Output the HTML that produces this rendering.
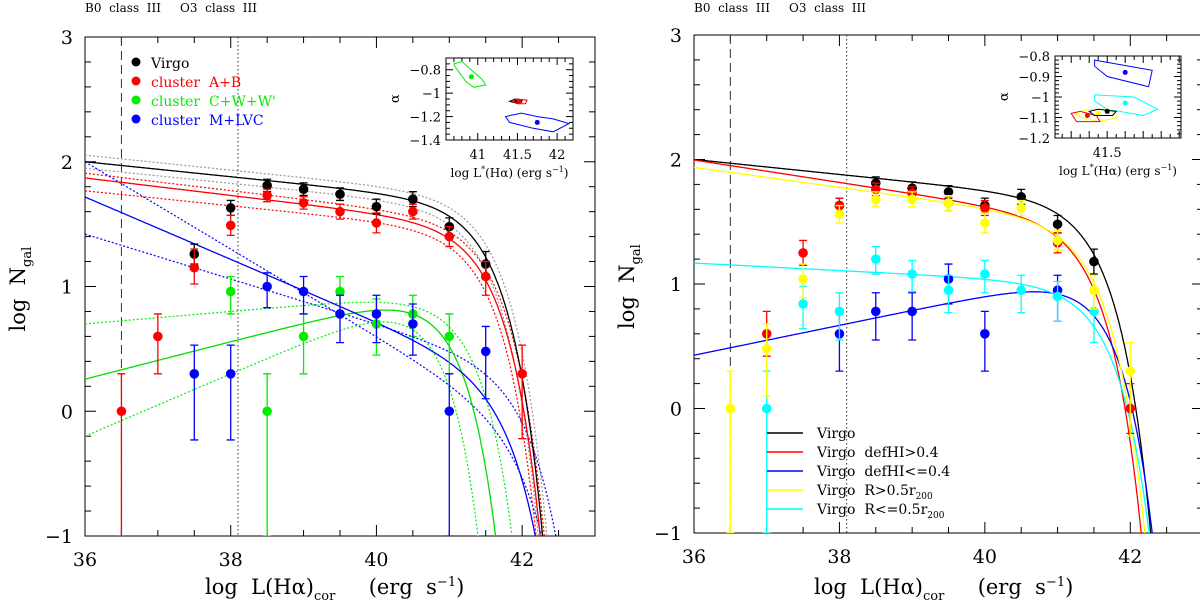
<!DOCTYPE html>
<html><head><meta charset="utf-8"><style>
body{margin:0;background:#fff;}
svg{display:block;font-family:"DejaVu Serif","Liberation Serif",serif;}
svg text{white-space:pre;}
</style></head><body>
<svg id="chart" width="1200" height="612" viewBox="0 0 1200 612"></svg>
<script>
// ---------- LEFT PANEL DATA ----------
const xsL = [36.5,37,37.5,38,38.5,39,39.5,40,40.5,41,41.5,42];
const virgoX = [37.5,38,38.5,39,39.5,40,40.5,41,41.5];
const virgoY = [1.26,1.63,1.81,1.78,1.74,1.64,1.70,1.48,1.18];
const virgoErr = [0.08,0.06,0.05,0.05,0.05,0.06,0.06,0.07,0.1];
const abX = [36.5,37,37.5,38,38.5,39,39.5,40,40.5,41,41.5,42];
const abY = [0,0.6,1.15,1.49,1.73,1.67,1.60,1.51,1.60,1.40,1.08,0.3];
const abUp = [0.3,0.18,0.15,0.08,0.05,0.05,0.06,0.08,0.06,0.08,0.12,0.23];
const abDn = [1.0,0.3,0.13,0.08,0.05,0.05,0.06,0.08,0.06,0.08,0.15,0.52];
const cwX = [38,38.5,39,39.5,40,40.5,41];
const cwY = [0.96,0,0.6,0.96,0.7,0.78,0.6];
const cwUp = [0.12,0.3,0.18,0.12,0.2,0.15,0.18];
const cwDn = [0.18,1.0,0.3,0.2,0.25,0.18,0.3];
const mlX = [37.5,38,38.5,39,39.5,40,40.5,41,41.5];
const mlY = [0.3,0.3,1.0,0.96,0.78,0.78,0.7,0,0.48];
const mlUp = [0.23,0.23,0.11,0.12,0.15,0.15,0.16,0.3,0.2];
const mlDn = [0.53,0.53,0.17,0.18,0.23,0.23,0.25,1.0,0.38];
// Schechter fit parameters [logPhi, alpha, logL*]
const fitVirgo = [1.67,-1.06,41.5];
const fitAB = [1.485,-1.07,41.5];
const fitCW = [1.0,-0.85,40.95];
const fitML = [0.28,-1.25,41.75];
const dotGrey = [[1.72,-1.06,41.55],[1.62,-1.06,41.45]];
const dotRed = [[1.52,-1.07,41.55],[1.44,-1.06,41.45]];
const dotGreen = [[0.96,-0.95,41.2],[0.975,-0.75,40.7]];
const dotBlue = [[-0.1,-1.35,42.0],[0.34,-1.18,42.0]];
// ---------- RIGHT PANEL DATA ----------
const rVirgoX = [38,38.5,39,39.5,40,40.5,41,41.5];
const rVirgoY = [1.63,1.81,1.77,1.74,1.63,1.70,1.48,1.18];
const rVirgoErr = [0.06,0.05,0.05,0.05,0.06,0.06,0.07,0.1];
const defHiX = [37,37.5,38,38.5,39,39.5,40,41,42];
const defHiY = [0.6,1.25,1.63,1.76,1.73,1.65,1.61,1.33,0.0];
const defHiErr = [0.18,0.1,0.06,0.05,0.05,0.06,0.06,0.08,0.2];
const defLoX = [38,38.5,39,39.5,40,41];
const defLoY = [0.6,0.78,0.78,1.04,0.6,0.95];
const defLoUp = [0.18,0.15,0.15,0.12,0.18,0.12];
const defLoDn = [0.3,0.23,0.23,0.2,0.3,0.25];
const outX = [36.5,37,37.5,38,38.5,39,39.5,40,40.5,41,41.5,42];
const outY = [0,0.48,1.04,1.56,1.68,1.68,1.65,1.49,1.61,1.35,0.95,0.3];
const outUp = [0.3,0.2,0.12,0.07,0.06,0.06,0.06,0.08,0.06,0.08,0.12,0.23];
const outDn = [1.0,0.38,0.15,0.07,0.06,0.06,0.06,0.08,0.06,0.08,0.15,0.52];
const inX = [37,37.5,38,38.5,39,39.5,40,40.5,41,41.5];
const inY = [0,0.84,0.78,1.2,1.08,0.95,1.08,0.95,0.9,0.78];
const inUp = [0.3,0.14,0.15,0.1,0.11,0.12,0.11,0.12,0.12,0.15];
const inDn = [1.0,0.2,0.23,0.12,0.14,0.18,0.15,0.18,0.2,0.25];
const rFitVirgo = [1.67,-1.06,41.5];
const rFitDefHi = [1.51,-1.09,41.4];
const rFitDefLo = [1.10,-0.88,41.6];
const rFitOut = [1.50,-1.08,41.45];
const rFitIn = [1.0,-1.03,41.6];

const NS="http://www.w3.org/2000/svg";
const svg=document.getElementById('chart');
function el(tag,attrs,parent){const e=document.createElementNS(NS,tag);for(const k in attrs)e.setAttribute(k,attrs[k]);(parent||svg).appendChild(e);return e;}
function schech(x,p){return p[0]+(p[1]+1)*(x-p[2])-Math.pow(10,x-p[2])/Math.LN10;}

function makePanel(P){
  const g=el('g',{});
  
  
  const sx=v=>P.x0+(v-36)*(P.x1-P.x0)/7;
  const sy=v=>P.yT+(3-v)*(P.yB-P.yT)/4;
  P.sx=sx;P.sy=sy;
  const cid='clip'+P.name;
  const cp=el('clipPath',{id:cid},g);
  el('rect',{x:P.x0,y:P.yT,width:P.x1-P.x0,height:P.yB-P.yT},cp);
  const fr=el('rect',{x:P.x0,y:P.yT,width:P.x1-P.x0,height:P.yB-P.yT,fill:'none',stroke:'#000','stroke-width':1},g);
  
  
  for(let v=36;v<=43.001;v+=0.5){
    const maj=Math.abs(v-Math.round(v/2)*2)<1e-6, L=maj?11:6, X=sx(v);
    el('line',{x1:X,x2:X,y1:P.yB,y2:P.yB-L,stroke:'#000'},g);
    el('line',{x1:X,x2:X,y1:P.yT,y2:P.yT+L,stroke:'#000'},g);
    if(maj){const t=el('text',{x:X,y:P.yB+30,'font-size':19,'text-anchor':'middle'},g);t.textContent=Math.round(v);
      
      }
  }
  for(let v=-1;v<=3.001;v+=0.2){
    const maj=Math.abs(v-Math.round(v))<1e-6,L=maj?11:6,Y=sy(v);
    el('line',{x1:P.x0,x2:P.x0+L,y1:Y,y2:Y,stroke:'#000'},g);
    el('line',{x1:P.x1,x2:P.x1-L,y1:Y,y2:Y,stroke:'#000'},g);
    if(maj){const t=el('text',{x:P.x0-12,y:Y+7,'font-size':19,'text-anchor':'end'},g);t.textContent=Math.round(v)<0?'\u2212'+Math.abs(Math.round(v)):Math.round(v);
      
      }
  }
  const vl1=el('line',{x1:sx(36.5),x2:sx(36.5),y1:P.yT,y2:P.yB,stroke:'#333','stroke-dasharray':'9,5'},g);
  
  
  const vl2=el('line',{x1:sx(38.1),x2:sx(38.1),y1:P.yT,y2:P.yB,stroke:'#333','stroke-dasharray':'1.5,2.5'},g);
  
  
  const tt=el('text',{x:P.x0,y:12,'font-size':12},g);tt.textContent='B0  class  III     O3  class  III';
  
  
  const xt=el('text',{x:P.x0+120,y:594,'font-size':21},g);
  xt.innerHTML='log  L(H\u03b1)<tspan font-size="13" dy="6">cor</tspan><tspan dy="-6">     (erg  s</tspan><tspan font-size="13" dy="-8">\u22121</tspan><tspan dy="8">)</tspan>';
  
  
  const yt=el('text',{transform:`translate(${P.x0-60},${(P.yT+P.yB)/2+45}) rotate(-90)`,'font-size':21},g);
  yt.innerHTML='log  N<tspan font-size="13" dy="6">gal</tspan>';
  
  
  P.g=el('g',{'clip-path':`url(#${cid})`},g);
  return P;
}
function curve(P,p,color,dashed,name){
  let d='';
  for(let x=36;x<=43;x+=0.01){const y=schech(x,p);if(y<-1.5)break;d+=(d?'L':'M')+P.sx(x).toFixed(1)+','+P.sy(y).toFixed(1);}
  const e=el('path',{d:d,fill:'none',stroke:color,'stroke-width':dashed?1.2:1.3,'stroke-dasharray':dashed?'2,2':'none'},P.g);
  
  
}
function points(P,xs,ys,up,dn,color,name){
  for(let i=0;i<xs.length;i++){
    const X=P.sx(xs[i]);
    const yu=P.sy(ys[i]+up[i]),yd=P.sy(ys[i]-dn[i]);
    const eb=el('path',{d:`M${X},${yu}L${X},${yd}M${X-4},${yu}L${X+4},${yu}M${X-4},${yd}L${X+4},${yd}`,stroke:color,'stroke-width':1.3,fill:'none'},P.g);
    
    
    const c=el('circle',{cx:X,cy:P.sy(ys[i]),r:4.8,fill:color},P.g);
    
    
  }
}
const L=makePanel({name:'left-panel',x0:85,x1:595,yT:37,yB:536});
dotGrey.forEach(p=>curve(L,p,'#999',true,'virgo-fit-bound'));
dotRed.forEach(p=>curve(L,p,'#f00',true,'ab-fit-bound'));
dotGreen.forEach(p=>curve(L,p,'#0e0',true,'cw-fit-bound'));
dotBlue.forEach(p=>curve(L,p,'#00f',true,'ml-fit-bound'));
curve(L,fitVirgo,'#000',false,'virgo-fit');
curve(L,fitAB,'#f00',false,'ab-fit');
curve(L,fitCW,'#0d0',false,'cw-fit');
curve(L,fitML,'#00f',false,'ml-fit');
points(L,cwX,cwY,cwUp,cwDn,'#0e0','cluster-cww');
points(L,mlX,mlY,mlUp,mlDn,'#00f','cluster-mlvc');
points(L,virgoX,virgoY,virgoErr,virgoErr,'#000','virgo');
points(L,abX,abY,abUp,abDn,'#f00','cluster-ab');
[['Virgo','#000'],['cluster  A+B','#f00'],['cluster  C+W+W\'','#0e0'],['cluster  M+LVC','#00f']].forEach((r,i)=>{
  const y=63+i*19;
  const c=el('circle',{cx:136,cy:y-1,r:4.5,fill:r[1]});
  
  
  const t=el('text',{x:151,y:y+5,'font-size':14,fill:r[1]});t.textContent=r[0];
  
  
});
const R=makePanel({name:'right-panel',x0:694,x1:1203,yT:35,yB:533});
curve(R,rFitVirgo,'#000',false,'virgo-fit');
curve(R,rFitDefHi,'#f00',false,'defhi-high-fit');
curve(R,rFitDefLo,'#00f',false,'defhi-low-fit');
curve(R,rFitOut,'#ff0',false,'outer-fit');
curve(R,rFitIn,'#0ff',false,'inner-fit');
points(R,defLoX,defLoY,defLoUp,defLoDn,'#00f','defhi-low');
points(R,inX,inY,inUp,inDn,'#0ff','inner');
points(R,rVirgoX,rVirgoY,rVirgoErr,rVirgoErr,'#000','virgo');
points(R,defHiX,defHiY,defHiErr,defHiErr,'#f00','defhi-high');
points(R,outX,outY,outUp,outDn,'#ff0','outer');
const leg=[['Virgo','#000',''],['Virgo  defHI>0.4','#f00',''],['Virgo  defHI<=0.4','#00f',''],['Virgo  R>0.5r','#ff0','200'],['Virgo  R<=0.5r','#0ff','200']];
leg.forEach((r,i)=>{
  const y=433+i*19;
  const l=el('line',{x1:767,x2:803,y1:y,y2:y,stroke:r[1],'stroke-width':1.5});
  
  
  const t=el('text',{x:817,y:y+5,'font-size':14});
  t.innerHTML=r[0]+(r[2]?'<tspan font-size="9" dy="4">'+r[2]+'</tspan>':'');
  
  
});
function inset(o){
  const g=el('g',{});
  
  
  const sx=v=>o.x0+(v-o.xa)*(o.x1-o.x0)/(o.xb-o.xa);
  const sy=v=>o.yT+(o.yt-v)*(o.yB-o.yT)/(o.yt-o.yb);
  el('rect',{x:o.x0,y:o.yT,width:o.x1-o.x0,height:o.yB-o.yT,fill:'#fff',stroke:'#000'},g);
  for(let v=Math.ceil(o.xa/o.xm)*o.xm;v<=o.xb+1e-6;v+=o.xm){const X=sx(v),maj=Math.abs(v/o.xM-Math.round(v/o.xM))<1e-6,Lg=maj?7:4;
    el('line',{x1:X,x2:X,y1:o.yB,y2:o.yB-Lg,stroke:'#000'},g);el('line',{x1:X,x2:X,y1:o.yT,y2:o.yT+Lg,stroke:'#000'},g);}
  for(let v=Math.ceil(o.yb/o.ym)*o.ym;v<=o.yt+1e-6;v+=o.ym){const Y=sy(v),maj=Math.abs(v/o.yM-Math.round(v/o.yM))<1e-6,Lg=maj?7:4;
    el('line',{x1:o.x0,x2:o.x0+Lg,y1:Y,y2:Y,stroke:'#000'},g);el('line',{x1:o.x1,x2:o.x1-Lg,y1:Y,y2:Y,stroke:'#000'},g);}
  o.xl.forEach(v=>{const t=el('text',{x:sx(v),y:o.yB+19,'font-size':13,'text-anchor':'middle'},g);t.textContent=v;
    });
  o.yl.forEach(v=>{const t=el('text',{x:o.x0-5,y:sy(v)+5,'font-size':13,'text-anchor':'end'},g);t.textContent=String(v).replace('-','\u2212');
    });
  const xt=el('text',{x:(o.x0+o.x1)/2,y:o.yB+37,'font-size':12,'text-anchor':'middle'},g);
  xt.innerHTML='log L<tspan font-size="8" dy="-5">*</tspan><tspan dy="5">(H\u03b1) (erg s</tspan><tspan font-size="8" dy="-5">\u22121</tspan><tspan dy="5">)</tspan>';
  
  const yt=el('text',{transform:`translate(${o.x0-47},${(o.yT+o.yB)/2+4}) rotate(-90)`,'font-size':13},g);yt.textContent='\u03b1';
  
  o.contours.forEach(c=>{
    const d=c.pts.map((p,i)=>(i?'L':'M')+sx(p[0]).toFixed(1)+','+sy(p[1]).toFixed(1)).join('')+'Z';
    const pe=el('path',{d:d,fill:'none',stroke:c.color,'stroke-width':1},g);
    
    const ce=el('circle',{cx:sx(c.c[0]),cy:sy(c.c[1]),r:2.5,fill:c.color},g);
    
  });
}
inset({name:'left-inset',x0:446,x1:573,yT:58,yB:140,xa:40.6,xb:42.2,yt:-0.7,yb:-1.4,xm:0.1,xM:0.5,ym:0.05,yM:0.2,xl:[41,41.5,42],yl:[-0.8,-1,-1.2,-1.4],
  contours:[
    {color:'#0e0',c:[40.92,-0.86],pts:[[40.7,-0.75],[40.8,-0.73],[41.05,-0.88],[41.1,-0.93],[40.95,-0.95],[40.85,-0.9],[40.72,-0.78]]},
    {color:'#000',c:[41.49,-1.07],pts:[[41.4,-1.07],[41.47,-1.05],[41.56,-1.06],[41.55,-1.08],[41.45,-1.08]]},
    {color:'#f00',c:[41.52,-1.07],pts:[[41.43,-1.07],[41.5,-1.05],[41.62,-1.06],[41.6,-1.09],[41.5,-1.09]]},
    {color:'#00f',c:[41.75,-1.25],pts:[[41.35,-1.2],[41.55,-1.17],[41.75,-1.2],[41.95,-1.22],[42.15,-1.26],[41.95,-1.33],[41.7,-1.3],[41.4,-1.25]]}
  ]});
inset({name:'right-inset',x0:1055,x1:1181,yT:56,yB:138,xa:41.21,xb:41.91,yt:-0.8,yb:-1.2,xm:0.05,xM:0.1,ym:0.02,yM:0.1,xl:[41.5],yl:[-0.8,-0.9,-1,-1.1,-1.2],
  contours:[
    {color:'#00f',c:[41.6,-0.88],pts:[[41.43,-0.82],[41.75,-0.87],[41.73,-0.95],[41.5,-0.9],[41.43,-0.85]]},
    {color:'#0ff',c:[41.6,-1.03],pts:[[41.43,-0.99],[41.65,-1.0],[41.78,-1.06],[41.7,-1.09],[41.5,-1.06],[41.43,-1.02]]},
    {color:'#ff0',c:[41.45,-1.08],pts:[[41.32,-1.08],[41.4,-1.06],[41.52,-1.06],[41.56,-1.1],[41.45,-1.12],[41.36,-1.1]]},
    {color:'#f00',c:[41.39,-1.09],pts:[[41.3,-1.08],[41.35,-1.07],[41.44,-1.09],[41.46,-1.12],[41.33,-1.12]]},
    {color:'#000',c:[41.5,-1.07],pts:[[41.4,-1.07],[41.45,-1.06],[41.55,-1.07],[41.53,-1.09],[41.43,-1.09]]}
  ]});
</script>
</body></html>
